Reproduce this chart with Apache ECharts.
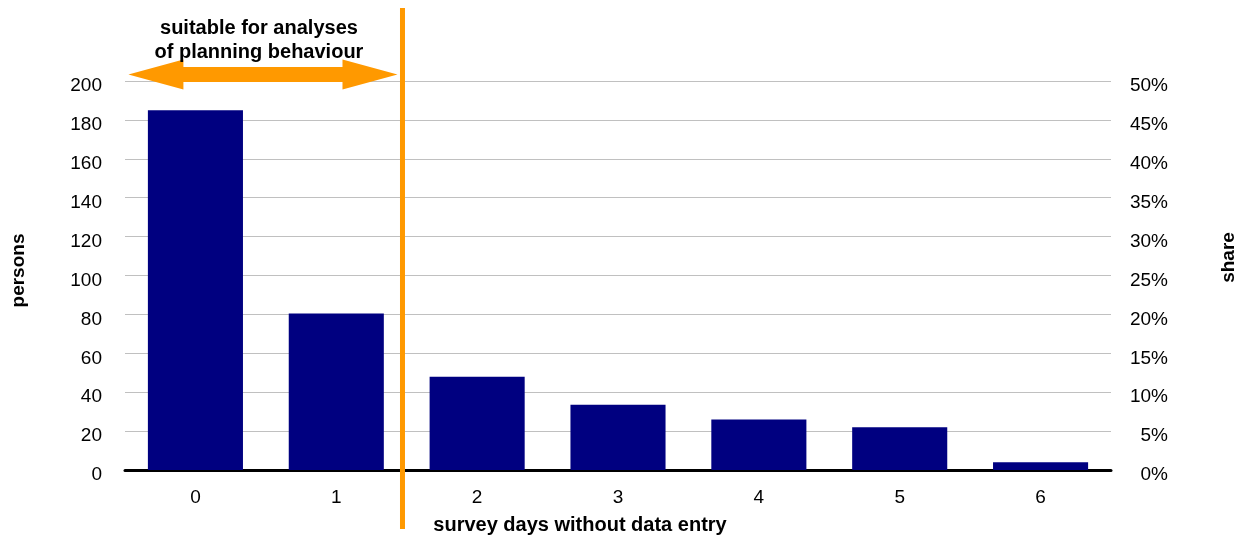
<!DOCTYPE html>
<html>
<head>
<meta charset="utf-8">
<script src="https://cdn.jsdelivr.net/npm/echarts@6/dist/echarts.min.js"></script>
<style>
  html, body { margin: 0; padding: 0; background: #ffffff; }
  #chart { width: 1242px; height: 537px; }
</style>
</head>
<body>
<div id="chart"></div>
<script>
// Survey days without data entry and number of persons per group
const days = ['0', '1', '2', '3', '4', '5', '6'];
const persons = [185, 80.5, 48, 33.5, 26, 22, 4];

// Left axis (persons) and right axis (share) scales
const personsMax = 200;
const personsStep = 20;
const shareMax = 0.5;
const shareStep = 0.05;

const annotationLines = ['suitable for analyses', 'of planning behaviour'];
const ORANGE = '#FF9900';
const FONT = '"Liberation Sans", Arial, sans-serif';

// value labels sit a little below their gridline
const tickRich = {
  t: { fontFamily: FONT, fontSize: 19, color: '#000', padding: [10, 0, 0, 0] }
};

const chart = echarts.init(document.getElementById('chart'), null, { renderer: 'canvas' });

const option = {
  backgroundColor: '#ffffff',
  animation: false,
  textStyle: { fontFamily: FONT },
  grid: { left: 125, right: 131, top: 81, bottom: 67, containLabel: false, outerBoundsMode: 'none' },
  xAxis: {
    type: 'category',
    data: days,
    name: 'survey days without data entry',
    nameLocation: 'middle',
    nameGap: 45,
    nameTextStyle: {
      fontFamily: FONT, fontSize: 20, fontWeight: 'bold', color: '#000',
      padding: [0, 76, 0, 0]
    },
    axisLine: { show: true, lineStyle: { color: '#000', width: 3 } },
    axisTick: { show: false },
    axisLabel: { fontFamily: FONT, fontSize: 19, color: '#000', margin: 18 },
    splitLine: { show: false }
  },
  yAxis: [
    {
      type: 'value',
      min: 0,
      max: personsMax,
      interval: personsStep,
      name: 'persons',
      nameLocation: 'middle',
      nameRotate: 90,
      nameGap: 97,
      nameTextStyle: {
        fontFamily: FONT, fontSize: 19, fontWeight: 'bold', color: '#000',
        padding: [0, 0, 0, 10]
      },
      axisLine: { show: false },
      axisTick: { show: false },
      axisLabel: {
        margin: 23,
        formatter: v => '{t|' + v + '}',
        rich: tickRich
      },
      splitLine: { show: true, lineStyle: { color: '#c0c0c0', width: 1 } }
    },
    {
      type: 'value',
      min: 0,
      max: shareMax,
      interval: shareStep,
      position: 'right',
      name: 'share',
      nameLocation: 'middle',
      nameRotate: 90,
      nameGap: 108,
      nameTextStyle: {
        fontFamily: FONT, fontSize: 19, fontWeight: 'bold', color: '#000',
        padding: [0, 0, 0, 36]
      },
      axisLine: { show: false },
      axisTick: { show: false },
      axisLabel: {
        margin: 57,
        align: 'right',
        formatter: v => '{t|' + Math.round(v * 100) + '%}',
        rich: tickRich
      },
      splitLine: { show: false }
    }
  ],
  series: [
    {
      type: 'bar',
      data: persons,
      yAxisIndex: 0,
      barWidth: '67.5%',
      itemStyle: { color: '#000080' },
      z: 2
    }
  ]
};

chart.setOption(option);

// Divider between categories 1 and 2 plus the double arrow spanning the left part
function drawAnnotations() {
  const c0 = chart.convertToPixel({ xAxisIndex: 0 }, days[0]);
  const c1 = chart.convertToPixel({ xAxisIndex: 0 }, days[1]);
  const step = c1 - c0;
  const lineX = c1 + step * 0.47;
  const leftX = c0 - step * 0.49;
  const yTop = chart.convertToPixel({ yAxisIndex: 0 }, personsMax);
  const yZero = chart.convertToPixel({ yAxisIndex: 0 }, 0);

  const ay = yTop - 6.5;        // arrow centre line
  const tipL = leftX + 2;
  const tipR = lineX - 5;
  const headLen = 55;
  const shaftHalf = 7.5;
  const headHalf = 15;

  chart.setOption({
    graphic: [
      {
        type: 'line',
        shape: { x1: lineX, y1: 8, x2: lineX, y2: yZero + 59 },
        style: { stroke: ORANGE, lineWidth: 5 },
        z: 10
      },
      {
        type: 'polygon',
        shape: {
          points: [
            [tipL, ay],
            [tipL + headLen, ay - headHalf],
            [tipL + headLen, ay - shaftHalf],
            [tipR - headLen, ay - shaftHalf],
            [tipR - headLen, ay - headHalf],
            [tipR, ay],
            [tipR - headLen, ay + headHalf],
            [tipR - headLen, ay + shaftHalf],
            [tipL + headLen, ay + shaftHalf],
            [tipL + headLen, ay + headHalf]
          ]
        },
        style: { fill: ORANGE },
        z: 10
      },
      {
        type: 'text',
        x: (tipL + tipR) / 2 - 4,
        y: 40,
        style: {
          text: annotationLines.join('\n'),
          font: 'bold 20px ' + FONT,
          fill: '#000',
          align: 'center',
          verticalAlign: 'middle',
          lineHeight: 24
        },
        z: 11
      }
    ]
  });
}
drawAnnotations();
</script>
</body>
</html>
